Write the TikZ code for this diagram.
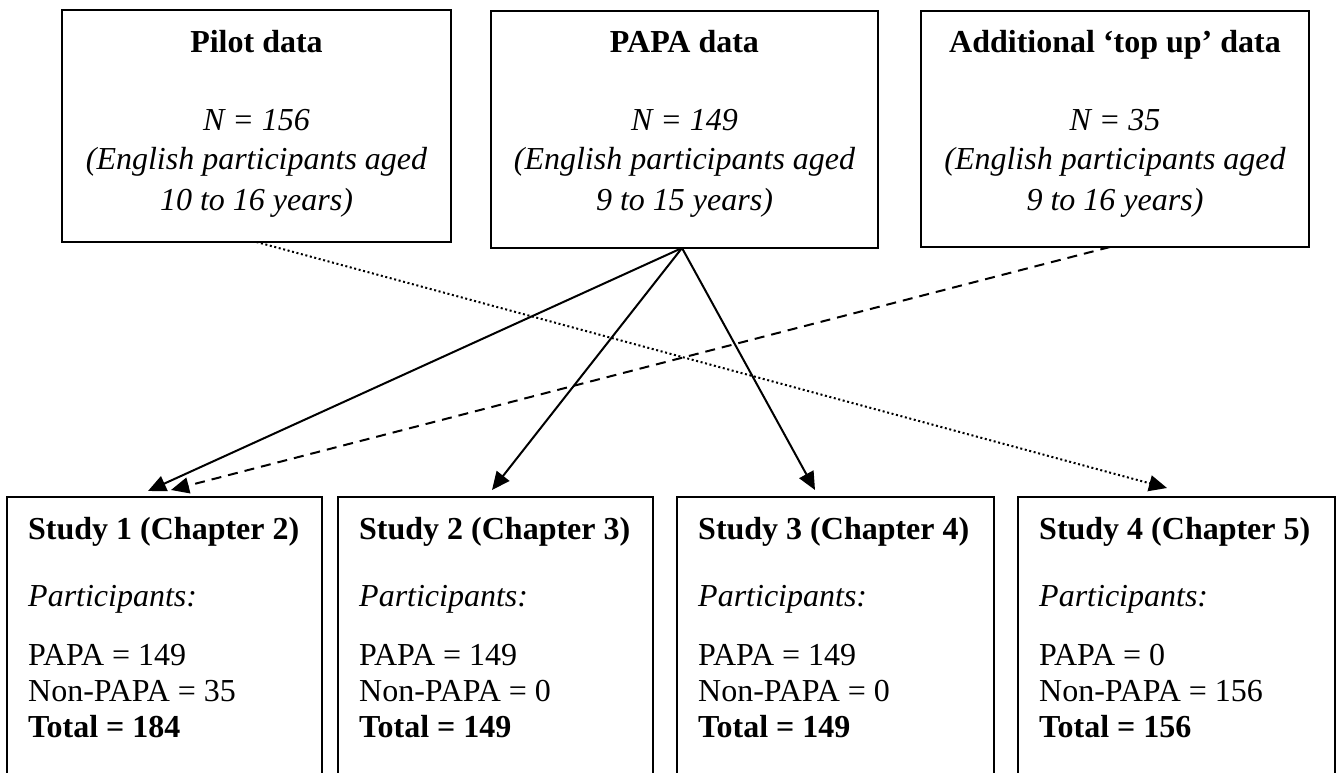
\documentclass[tikz,border=0pt]{standalone}
\usepackage{fontspec}
\setmainfont{Liberation Serif}
\usetikzlibrary{arrows.meta}
\begin{document}
\begin{tikzpicture}[x=1pt,y=-1pt,
  box/.style={draw,line width=2pt,rectangle,inner sep=0pt,outer sep=0pt,anchor=north west},
  ctr/.style={inner sep=0pt,anchor=base},
  lft/.style={inner sep=0pt,anchor=base west},
  ttl/.style={font=\fontsize{32pt}{38pt}\selectfont\bfseries},
  itx/.style={font=\fontsize{32pt}{38pt}\selectfont\itshape},
  rmx/.style={font=\fontsize{32pt}{38pt}\selectfont},
  conn/.style={line width=2pt,-{Triangle[length=18pt,width=16pt]}},
  dashconn/.style={conn,dash pattern=on 10pt off 7pt},
  dotconn/.style={line width=2pt,dash pattern=on 2pt off 2.6pt,-{Triangle[length=18pt,width=16pt]}}]
\clip (0,0) rectangle (1336,772);
\fill[white] (0,0) rectangle (1336,772);

% top boxes
\node[box,minimum width=389pt,minimum height=232pt] (pilot) at (62,10) {};
\node[box,minimum width=387pt,minimum height=237pt] (papa) at (491,11) {};
\node[box,minimum width=388pt,minimum height=236pt] (extra) at (921,11) {};

\node[ctr,ttl] (pilotT) at (256.5,52) {Pilot data};
\node[ctr,itx] (pilotN) at (256.5,130) {N = 156};
\node[ctr,itx] (pilotE) at (256.5,169) {(English participants aged};
\node[ctr,itx] (pilotA) at (256.5,210) {10 to 16 years)};

\node[ctr,ttl] (papaT) at (684.5,52) {PAPA data};
\node[ctr,itx] (papaN) at (684.5,130) {N = 149};
\node[ctr,itx] (papaE) at (684.5,169) {(English participants aged};
\node[ctr,itx] (papaA) at (684.5,210) {9 to 15 years)};

\node[ctr,ttl] (extraT) at (1115,52) {Additional ‘top up’ data};
\node[ctr,itx] (extraN) at (1115,130) {N = 35};
\node[ctr,itx] (extraE) at (1115,169) {(English participants aged};
\node[ctr,itx] (extraA) at (1115,210) {9 to 16 years)};

% bottom boxes
\node[box,minimum width=315pt,minimum height=320pt] (s1) at (7,497) {};
\node[box,minimum width=315pt,minimum height=320pt] (s2) at (338,497) {};
\node[box,minimum width=317pt,minimum height=320pt] (s3) at (677,497) {};
\node[box,minimum width=317pt,minimum height=320pt] (s4) at (1018,497) {};

\node[lft,ttl] (s1T) at (28,539) {Study 1 (Chapter 2)};
\node[lft,itx] (s1P) at (28,606) {Participants:};
\node[lft,rmx] (s1a) at (28,665) {PAPA = 149};
\node[lft,rmx] (s1b) at (28,701) {Non-PAPA = 35};
\node[lft,ttl] (s1c) at (28,737) {Total = 184};

\node[lft,ttl] (s2T) at (359,539) {Study 2 (Chapter 3)};
\node[lft,itx] (s2P) at (359,606) {Participants:};
\node[lft,rmx] (s2a) at (359,665) {PAPA = 149};
\node[lft,rmx] (s2b) at (359,701) {Non-PAPA = 0};
\node[lft,ttl] (s2c) at (359,737) {Total = 149};

\node[lft,ttl] (s3T) at (698,539) {Study 3 (Chapter 4)};
\node[lft,itx] (s3P) at (698,606) {Participants:};
\node[lft,rmx] (s3a) at (698,665) {PAPA = 149};
\node[lft,rmx] (s3b) at (698,701) {Non-PAPA = 0};
\node[lft,ttl] (s3c) at (698,737) {Total = 149};

\node[lft,ttl] (s4T) at (1039,539) {Study 4 (Chapter 5)};
\node[lft,itx] (s4P) at (1039,606) {Participants:};
\node[lft,rmx] (s4a) at (1039,665) {PAPA = 0};
\node[lft,rmx] (s4b) at (1039,701) {Non-PAPA = 156};
\node[lft,ttl] (s4c) at (1039,737) {Total = 156};

% connectors
\draw[conn] ([xshift=-2.5pt]papa.south) -- ([xshift=-16.5pt,yshift=6pt]s1.north);
\draw[conn] ([xshift=-2.5pt]papa.south) -- ([xshift=-3.5pt,yshift=7pt]s2.north);
\draw[conn] ([xshift=-2.5pt]papa.south) -- ([xshift=-20.5pt,yshift=7pt]s3.north);
\draw[dashconn] ([xshift=-5pt]extra.south) -- ([xshift=6.5pt,yshift=7pt]s1.north);
\draw[dotconn] (pilot.south) -- ([xshift=-9.5pt,yshift=9pt]s4.north);
\end{tikzpicture}
\end{document}
